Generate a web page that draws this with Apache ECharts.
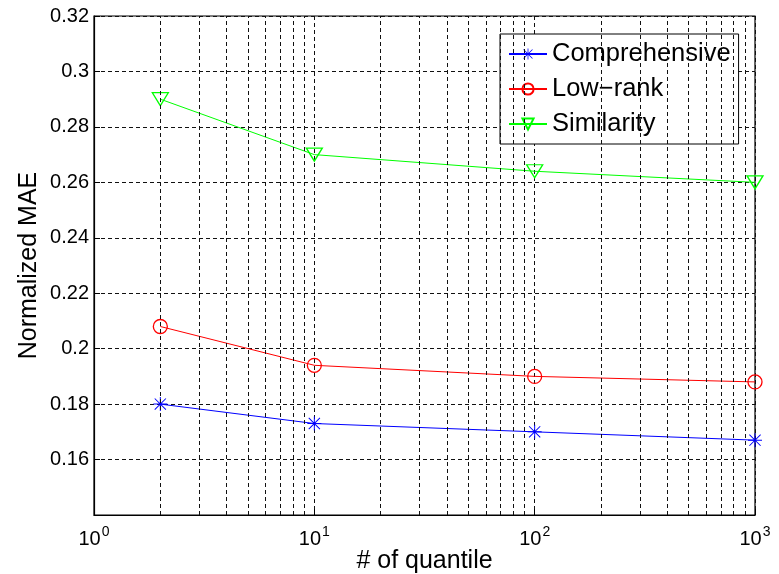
<!DOCTYPE html>
<html>
<head>
<meta charset="utf-8">
<script src="https://cdn.jsdelivr.net/npm/echarts@6/dist/echarts.min.js"></script>
<style>
  html, body { margin: 0; padding: 0; background: #fff; }
  #chart { width: 779px; height: 574px; }
</style>
</head>
<body>
<div id="chart"></div>
<script>
// Number of quantiles (log scale) and the normalized MAE for each method
const quantiles = [2, 10, 100, 1000];
const comprehensive = [0.180, 0.173, 0.170, 0.167];
const lowRank = [0.208, 0.194, 0.190, 0.188];
const similarity = [0.290, 0.270, 0.264, 0.260];
const seriesNames = ['Comprehensive', 'Low\u2212rank', 'Similarity'];

// Minor log-decade grid positions
const minorGrid = [2, 3, 4, 5, 6, 7, 8, 9, 20, 30, 40, 50, 60, 70, 80, 90, 200, 300, 400, 500, 600, 700, 800, 900];

const FONT = '"Liberation Sans", Arial, Helvetica, sans-serif';
const gridDash = { color: '#111', width: 1, type: [4, 3] };

// Eight-armed asterisk marker
const asterisk = 'path://M9.3,0h1.4v20h-1.4Z M0,9.3h20v1.4h-20Z M1.5,2.5L2.5,1.5L18.5,17.5L17.5,18.5Z M17.5,1.5L18.5,2.5L2.5,18.5L1.5,17.5Z';
const triDown = 'path://M0,0L20,0L10,17Z';

function pairs(ys) { return quantiles.map((q, i) => [q, ys[i]]); }

const chart = echarts.init(document.getElementById('chart'), null, { renderer: 'canvas' });
chart.setOption({
  animation: false,
  backgroundColor: '#fff',
  textStyle: { fontFamily: FONT },
  grid: {
    left: 94, right: 24, top: 16, bottom: 59,
    containLabel: false, outerBoundsMode: 'none',
    show: true, borderColor: '#000', borderWidth: 1.2, backgroundColor: 'transparent'
  },
  legend: {
    orient: 'vertical',
    left: 500, top: 34,
    data: seriesNames,
    backgroundColor: '#fff',
    borderColor: '#000', borderWidth: 1,
    padding: [7, 8, 7, 8],
    itemWidth: 38, itemHeight: 14, itemGap: 9,
    textStyle: { fontSize: 25.5, color: '#000', fontFamily: FONT }
  },
  xAxis: {
    type: 'log', logBase: 10, min: 1, max: 1000,
    name: '# of quantile', nameLocation: 'middle', nameGap: 34, nameMoveOverlap: false,
    nameTextStyle: { fontSize: 25, color: '#000', fontFamily: FONT, verticalAlign: 'top' },
    axisLine: { lineStyle: { color: '#000', width: 1.2 } },
    axisTick: { inside: true, length: 6, lineStyle: { color: '#000' } },
    axisLabel: {
      margin: 10, color: '#000',
      formatter: function (v) {
        const e = Math.round(Math.log10(v));
        return '{b|10}{s|' + e + '}';
      },
      rich: {
        b: { fontSize: 20, fontFamily: FONT, color: '#000' },
        s: { fontSize: 14, fontFamily: FONT, color: '#000', padding: [0, 0, 14, 1] }
      }
    },
    splitLine: { show: true, lineStyle: gridDash }
  },
  yAxis: {
    type: 'value', min: 0.14, max: 0.32, interval: 0.02,
    name: 'Normalized MAE', nameLocation: 'middle', nameGap: 52, nameRotate: 90, nameMoveOverlap: false,
    nameTextStyle: { fontSize: 25, color: '#000', fontFamily: FONT },
    axisLine: { show: true, lineStyle: { color: '#000', width: 1.2 } },
    axisTick: { show: true, inside: true, length: 6, lineStyle: { color: '#000' } },
    axisLabel: {
      margin: 5, fontSize: 20, color: '#000', fontFamily: FONT,
      formatter: function (v) {
        if (Math.abs(v - 0.14) < 1e-9) return '';
        return String(parseFloat(v.toFixed(2)));
      }
    },
    splitLine: { show: true, lineStyle: gridDash }
  },
  series: [
    {
      name: 'grid-minor', type: 'line', data: [], silent: true, z: 1,
      markLine: {
        silent: true, symbol: 'none', label: { show: false },
        lineStyle: gridDash, animation: false,
        data: minorGrid.map(v => ({ xAxis: v }))
      }
    },
    {
      name: seriesNames[0], type: 'line', data: pairs(comprehensive), z: 3,
      symbol: asterisk, symbolSize: 14,
      lineStyle: { color: '#0000ff', width: 1 },
      itemStyle: { color: '#0000ff' }
    },
    {
      name: seriesNames[1], type: 'line', data: pairs(lowRank), z: 3,
      symbol: 'circle', symbolSize: 14,
      lineStyle: { color: '#ff0000', width: 1 },
      itemStyle: { color: 'rgba(0,0,0,0)', borderColor: '#ff0000', borderWidth: 1.3 }
    },
    {
      name: seriesNames[2], type: 'line', data: pairs(similarity), z: 3,
      symbol: triDown, symbolSize: [16, 13],
      lineStyle: { color: '#00ff00', width: 1 },
      itemStyle: { color: 'rgba(0,0,0,0)', borderColor: '#00ff00', borderWidth: 1.3 }
    }
  ]
});
</script>
</body>
</html>
